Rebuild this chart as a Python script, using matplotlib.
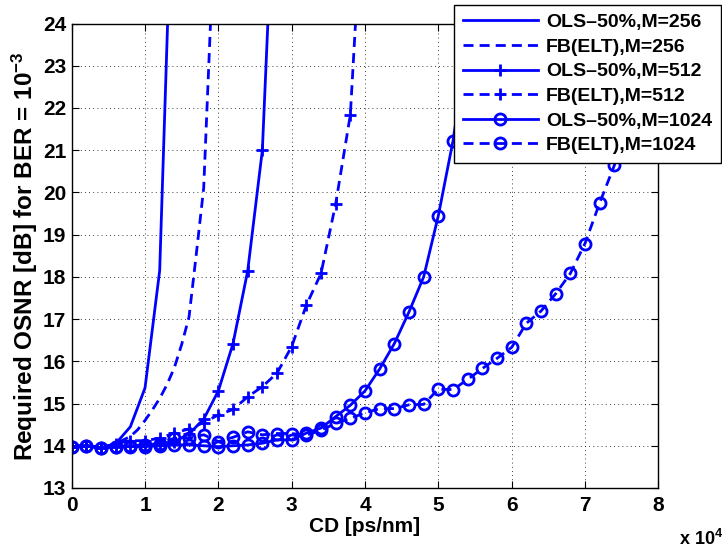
import numpy as np
import matplotlib
matplotlib.use("Agg")
import matplotlib.pyplot as plt

plt.rcParams['font.family'] = ['Liberation Sans', 'DejaVu Sans']
plt.rcParams['font.weight'] = 'bold'
plt.rcParams['mathtext.fontset'] = 'custom'
plt.rcParams['mathtext.rm'] = 'Liberation Sans:bold'
plt.rcParams['mathtext.it'] = 'Liberation Sans:bold'
plt.rcParams['mathtext.bf'] = 'Liberation Sans:bold'

# CD in units of 10^4 ps/nm
cd_ols256 = [0, 0.2, 0.4, 0.6, 0.8, 1.0, 1.2, 1.4]
osnr_ols256 = [13.98, 14.0, 13.95, 14.05, 14.45, 15.37, 18.15, 29.0]

cd_fb256 = [0, 0.2, 0.4, 0.6, 0.8, 0.9, 1.0, 1.1, 1.2, 1.3, 1.4, 1.5, 1.6, 1.7, 1.8, 1.9, 2.0]
osnr_fb256 = [13.98, 14.0, 13.95, 14.05, 14.22, 14.38, 14.6, 14.85, 15.12, 15.45, 15.85,
              16.4, 17.05, 18.55, 20.1, 24.3, 30.0]

cd_ols512 = [0, 0.2, 0.4, 0.6, 0.8, 1.0, 1.2, 1.4, 1.6, 1.8, 2.0, 2.2, 2.4, 2.6, 2.8]
osnr_ols512 = [13.98, 14.0, 13.95, 13.98, 14.0, 14.02, 14.05, 14.1, 14.28, 14.63,
               15.3, 16.42, 18.14, 21.0, 29.0]

cd_fb512 = [0, 0.2, 0.4, 0.6, 0.8, 1.0, 1.2, 1.4, 1.6, 1.8, 2.0, 2.2, 2.4, 2.6, 2.8,
            3.0, 3.2, 3.4, 3.6, 3.8, 4.0]
osnr_fb512 = [13.98, 14.0, 13.95, 14.05, 14.12, 14.12, 14.18, 14.3, 14.4, 14.55, 14.73,
              14.86, 15.16, 15.4, 15.72, 16.35, 17.33, 18.08, 19.73, 21.84, 28.0]

cd_ols1024 = [0, 0.2, 0.4, 0.6, 0.8, 1.0, 1.2, 1.4, 1.6, 1.8, 2.0, 2.2, 2.4, 2.6, 2.8,
              3.0, 3.2, 3.4, 3.6, 3.8, 4.0, 4.2, 4.4, 4.6, 4.8, 5.0, 5.2, 5.4]
osnr_ols1024 = [13.98, 14.0, 13.95, 13.98, 13.98, 13.98, 14.0, 14.02, 14.02, 14.0, 13.98,
                14.0, 14.02, 14.06, 14.14, 14.14, 14.3, 14.42, 14.69, 14.96, 15.3, 15.82,
                16.42, 17.17, 18.0, 19.45, 21.22, 23.6]

cd_fb1024 = [0, 0.2, 0.4, 0.6, 0.8, 1.0, 1.2, 1.4, 1.6, 1.8, 2.0, 2.2, 2.4, 2.6, 2.8,
             3.0, 3.2, 3.4, 3.6, 3.8, 4.0, 4.2, 4.4, 4.6, 4.8, 5.0, 5.2, 5.4, 5.6, 5.8,
             6.0, 6.2, 6.4, 6.6, 6.8, 7.0, 7.2, 7.4, 7.6]
osnr_fb1024 = [13.98, 14.0, 13.95, 13.98, 14.0, 14.02, 14.05, 14.18, 14.18, 14.26, 14.1,
               14.2, 14.33, 14.26, 14.29, 14.29, 14.25, 14.37, 14.53, 14.65, 14.78, 14.88,
               14.88, 14.97, 14.98, 15.34, 15.33, 15.57, 15.83, 16.07, 16.33, 16.9, 17.19,
               17.6, 18.08, 18.79, 19.75, 20.64, 21.8]

labels = ['OLS\u201350%,M=256', 'FB(ELT),M=256', 'OLS\u201350%,M=512',
          'FB(ELT),M=512', 'OLS\u201350%,M=1024', 'FB(ELT),M=1024']

xticks = [0, 1, 2, 3, 4, 5, 6, 7, 8]
yticks = [13, 14, 15, 16, 17, 18, 19, 20, 21, 22, 23, 24]

fig = plt.figure(figsize=(7.22, 5.48), dpi=100)
ax = fig.add_axes([0.0993, 0.1095, 0.8125, 0.8476])

blue = (0, 0, 1)
lw = 2.0
dash = (0, (3.6, 2.2))
ms_o = 8
ms_p = 9

ax.plot(cd_ols256, osnr_ols256, color=blue, lw=lw, ls='-', label=labels[0])
ax.plot(cd_fb256, osnr_fb256, color=blue, lw=lw, ls=dash, label=labels[1])
ax.plot(cd_ols512, osnr_ols512, color=blue, lw=lw, ls='-', marker='+', ms=ms_p, mew=2,
        label=labels[2])
ax.plot(cd_fb512, osnr_fb512, color=blue, lw=lw, ls=dash, marker='+', ms=ms_p, mew=2,
        label=labels[3])
ax.plot(cd_ols1024, osnr_ols1024, color=blue, lw=lw, ls='-', marker='o', ms=ms_o, mew=2,
        mfc='none', label=labels[4])
ax.plot(cd_fb1024, osnr_fb1024, color=blue, lw=lw, ls=dash, marker='o', ms=ms_o, mew=2,
        mfc='none', label=labels[5])

ax.set_xlim(0, 8)
ax.set_ylim(13, 24)
ax.set_xticks(xticks)
ax.set_yticks(yticks)
ax.set_xticklabels([str(v) for v in xticks], fontsize=15, fontweight='bold')
ax.set_yticklabels([str(v) for v in yticks], fontsize=15, fontweight='bold')
ax.tick_params(axis='both', direction='in', top=True, right=True, length=5, width=0.8)
ax.tick_params(axis='y', pad=4)
ax.tick_params(axis='x', pad=6)
ax.grid(True, color='black', linestyle=(0, (1, 4)), linewidth=0.6)
for s in ax.spines.values():
    s.set_linewidth(1.0)

ax.set_xlabel('CD [ps/nm]', fontsize=15, fontweight='bold', labelpad=1)
ax.set_ylabel('Required OSNR [dB] for BER = 10$^{\\mathregular{-3}}$', fontsize=17.5,
              fontweight='bold', labelpad=2)
fig.text(0.94, 0.006, 'x 10$^{4}$', fontsize=13, fontweight='bold')

leg = fig.legend(loc='upper right', bbox_to_anchor=(0.998, 0.991), frameon=True,
                 fancybox=False, edgecolor='black', framealpha=1,
                 prop={'size': 14, 'weight': 'bold'}, handlelength=3.86,
                 handletextpad=0.41, labelspacing=0.36, borderpad=0.44, borderaxespad=0)
leg.get_frame().set_linewidth(1.0)
leg.set_zorder(10)

fig.savefig('out.png', dpi=100)
